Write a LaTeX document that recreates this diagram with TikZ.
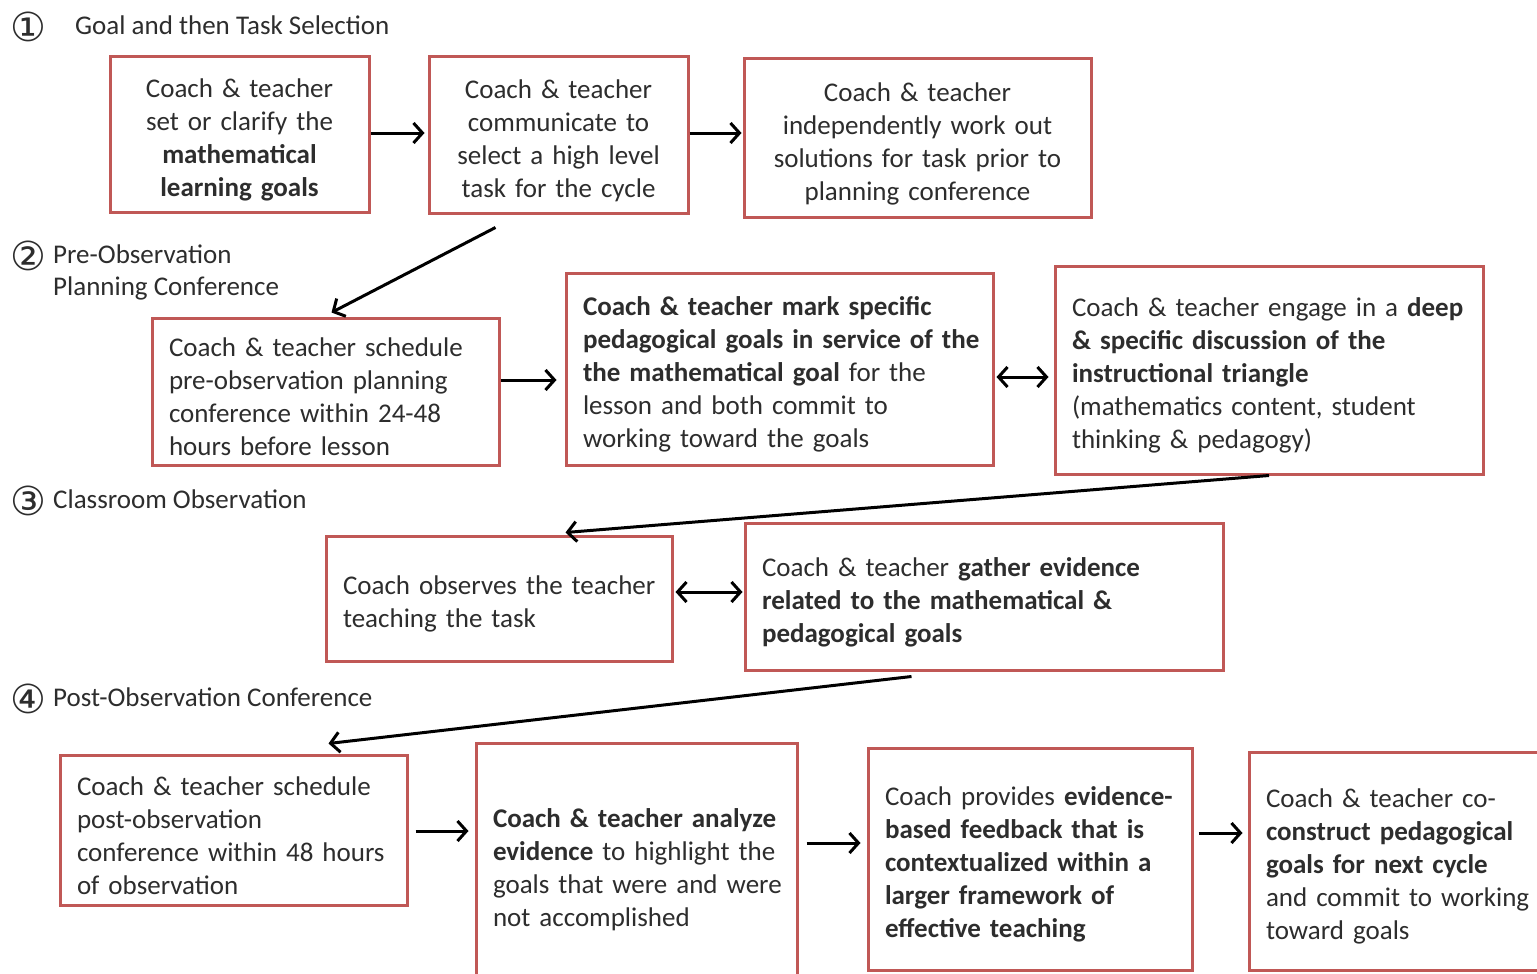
\documentclass[tikz,border=0pt]{standalone}
\usepackage{fontspec}
\setmainfont{Carlito}
\newfontfamily\circfont{DejaVu Sans}
\usetikzlibrary{arrows.meta}
\definecolor{boxred}{RGB}{192,88,86}
\definecolor{txt}{RGB}{45,45,45}
\newcommand\ml[1]{\mbox{#1}}
\tikzset{
  stagebox/.style={draw=boxred, line width=3pt, rectangle, inner xsep=17pt, inner ysep=0pt,
    text=txt, font=\fontsize{27}{33}\selectfont, execute at begin node={\rule{0pt}{30pt}}},
  lbox/.style={stagebox, align=left},
  cbox/.style={stagebox, align=center},
  tip/.tip={Straight Barb[length=9pt,width=20pt,line width=3pt]},
  arr/.style={-tip, line width=3pt, black},
  darr/.style={tip-tip, line width=3pt, black},
  sectlabel/.style={text=txt, font=\fontsize{27}{33}\selectfont, anchor=mid west, inner sep=0pt},
  numlabel/.style={text=txt, font=\circfont\fontsize{40}{40}\selectfont, inner sep=0pt}
}
\begin{document}
\begin{tikzpicture}[x=1pt,y=-1pt]
\useasboundingbox (0,0) rectangle (1537,974);
\fill[white] (0,0) rectangle (1537,974);

% section labels
\node[numlabel] (n1) at (28,27) {①};
\node[sectlabel] (s1) at (75,32) {Goal and then Task Selection};
\node[numlabel] (n2) at (28,256) {②};
\node[sectlabel] (s2a) at (53,261) {Pre-Observation};
\node[sectlabel] (s2b) at (53,293) {Planning Conference};
\node[numlabel] (n3) at (28,501) {③};
\node[sectlabel] (s3) at (53,506) {Classroom Observation};
\node[numlabel] (n4) at (28,699) {④};
\node[sectlabel] (s4) at (53,704) {Post-Observation Conference};

% row 1
\node[cbox, minimum width=259pt, minimum height=155pt, text width=225pt] (A) at (239.5,134.5)
  {Coach \& teacher\\ set or clarify the\\ \textbf{mathematical}\\ \textbf{learning goals}};
\node[cbox, minimum width=259pt, minimum height=156pt, text width=225pt] (B) at (558.5,135)
  {Coach \& teacher\\ communicate to\\ select a high level\\ task for the cycle};
\node[cbox, minimum width=347pt, minimum height=158pt, text width=313pt] (C) at (917.5,138)
  {Coach \& teacher\\ independently work out\\ solutions for task prior to\\ planning conference};

% row 2
\node[lbox, minimum width=347pt, minimum height=147pt, text width=313pt] (D) at (325.5,391.5)
  {\ml{Coach \& teacher schedule}\\ \ml{pre-observation planning}\\ \ml{conference within 24-48}\\ \ml{hours before lesson}};
\node[lbox, minimum width=427pt, minimum height=192pt, text width=393pt] (E) at (779.5,369)
  {\ml{\textbf{Coach \& teacher mark specific}}\\ \ml{\textbf{pedagogical goals in service of the}}\\ \ml{\textbf{the mathematical goal} for the}\\ \ml{lesson and both commit to}\\ \ml{working toward the goals}};
\node[lbox, minimum width=428pt, minimum height=208pt, text width=394pt] (F) at (1269,370)
  {\ml{Coach \& teacher engage in a \textbf{deep}}\\ \ml{\textbf{\& specific discussion of the}}\\ \ml{\textbf{instructional triangle}}\\ \ml{(mathematics content, student}\\ \ml{thinking \& pedagogy)}};

% row 3
\node[lbox, minimum width=346pt, minimum height=125pt, text width=312pt] (G) at (499,598.5)
  {\ml{Coach observes the teacher}\\ \ml{teaching the task}};
\node[lbox, minimum width=478pt, minimum height=147pt, text width=444pt] (H) at (984,596.5)
  {\ml{Coach \& teacher \textbf{gather evidence}}\\ \ml{\textbf{related to the mathematical \&}}\\ \ml{\textbf{pedagogical goals}}};

% row 4
\node[lbox, minimum width=347pt, minimum height=150pt, text width=313pt] (I) at (233.5,830)
  {\ml{Coach \& teacher schedule}\\ \ml{post-observation}\\ \ml{conference within 48 hours}\\ \ml{of observation}};
\node[lbox, minimum width=321pt, minimum height=242pt, text width=287pt] (J) at (636.5,864)
  {\ml{\textbf{Coach \& teacher analyze}}\\ \ml{\textbf{evidence} to highlight the}\\ \ml{goals that were and were}\\ \ml{not accomplished}};
\node[lbox, minimum width=324pt, minimum height=222pt, text width=290pt] (K) at (1030,859)
  {\ml{Coach provides \textbf{evidence-}}\\ \ml{\textbf{based feedback that is}}\\ \ml{\textbf{contextualized within a}}\\ \ml{\textbf{larger framework of}}\\ \ml{\textbf{effective teaching}}};
\node[lbox, minimum width=304pt, minimum height=218pt, text width=270pt] (L) at (1401,861)
  {\ml{Coach \& teacher co-}\\ \ml{\textbf{construct pedagogical}}\\ \ml{\textbf{goals for next cycle}}\\ \ml{and commit to working}\\ \ml{toward goals}};

% connectors
\draw[arr, shorten >=3pt] ([yshift=1.5pt]A.east) -- ([yshift=1.5pt]A.east -| B.west);
\draw[arr, shorten >=1pt] ([yshift=2pt]B.east) -- ([yshift=2pt]B.east -| C.west);
\draw[arr] ([xshift=68pt,yshift=-13pt]B.south west) -- ([xshift=181pt,yshift=4pt]D.north west);
\draw[arr, shorten >=8pt] ([yshift=11.5pt]D.east) -- ([yshift=11.5pt]D.east -| E.west);
\draw[darr, shorten <=2pt, shorten >=5pt] ([yshift=-8pt]E.east) -- ([yshift=-8pt]E.east -| F.west);
\draw[arr] (F.south) -- ([xshift=241pt,yshift=2pt]G.north west);
\draw[darr, shorten <=2pt, shorten >=1pt] ([yshift=6.5pt]G.east) -- ([yshift=6.5pt]G.east -| H.west);
\draw[arr] ([xshift=168pt,yshift=-5pt]H.south west) -- ([xshift=270pt,yshift=10pt]I.north west);
\draw[arr, shorten <=7pt, shorten >=6pt] ([yshift=-1pt]I.east) -- ([yshift=-1pt]I.east -| J.west);
\draw[arr, shorten <=8pt, shorten >=6pt] ([yshift=16pt]K.west -| J.east) -- ([yshift=16pt]K.west);
\draw[arr, shorten <=5pt, shorten >=5pt] ([yshift=28pt]L.west -| K.east) -- ([yshift=28pt]L.west);
\end{tikzpicture}
\end{document}
